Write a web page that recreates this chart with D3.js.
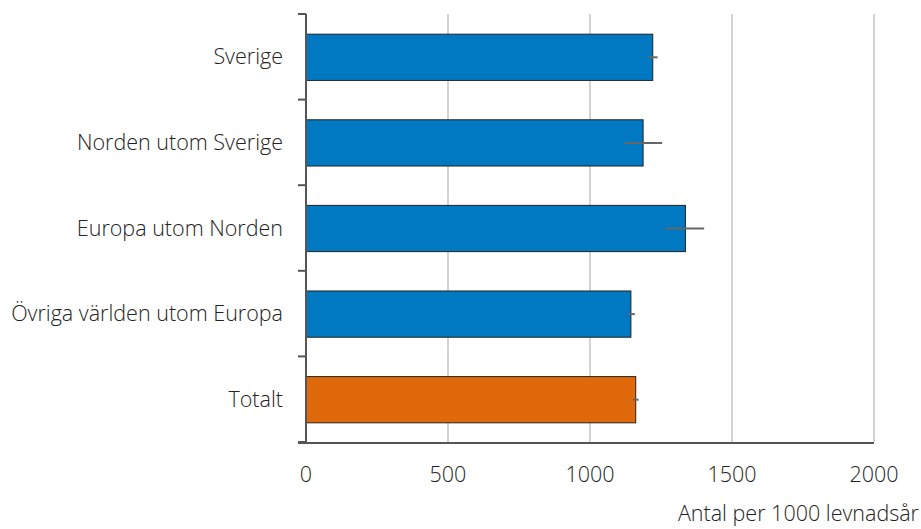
<!DOCTYPE html>
<html><head><meta charset="utf-8">
<script src="https://cdn.jsdelivr.net/npm/d3@7"></script>
<style>body{margin:0;background:#fff}svg{display:block;font-family:"Open Sans",sans-serif;font-weight:300}</style>
</head><body><svg id="c" width="921" height="529"></svg>
<script>
const categories = ["Sverige","Norden utom Sverige","Europa utom Norden","Övriga världen utom Europa","Totalt"];
const values = [1221,1187,1336,1144,1161];
const lower = [1205,1123,1267,1133,1152];
const upper = [1238,1254,1402,1158,1171];
const colors = ["#0079c2","#0079c2","#0079c2","#0079c2","#e0690b"];
const xTicks = [0,500,1000,1500,2000];
const xLabel = "Antal per 1000 levnadsår";
const FS = 21.5;

const svg = d3.select("#c");
const x = d3.scaleLinear().domain([0,2000]).range([306,874]);
const y = d3.scaleBand().domain(categories).range([14,442]).paddingInner(0.46).paddingOuter(0.23);
const band = d3.scaleBand().domain(categories).range([14,442]);

svg.append("g").selectAll("line").data(xTicks.slice(1)).join("line")
  .attr("x1",d=>x(d)).attr("x2",d=>x(d)).attr("y1",14).attr("y2",442)
  .attr("stroke","#c4c4c4").attr("stroke-width",1.5);

svg.append("g").selectAll("rect").data(categories).join("rect")
  .attr("x",x(0)).attr("y",d=>y(d)+0.5).attr("width",(d,i)=>x(values[i])-x(0)).attr("height",y.bandwidth())
  .attr("fill",(d,i)=>colors[i]).attr("stroke","#222").attr("stroke-width",1);

svg.append("g").selectAll("line").data(categories).join("line")
  .attr("x1",(d,i)=>x(lower[i])).attr("x2",(d,i)=>x(upper[i]))
  .attr("y1",d=>y(d)+y.bandwidth()/2+0.5).attr("y2",d=>y(d)+y.bandwidth()/2+0.5)
  .attr("stroke","#666").attr("stroke-width",2);

const yAxis = svg.append("g");
yAxis.append("line").attr("x1",306).attr("x2",306).attr("y1",14).attr("y2",443).attr("stroke","#555").attr("stroke-width",2);
const bounds = categories.map(c=>band(c)).concat([442]);
yAxis.selectAll("line.t").data(bounds).join("line").attr("class","t")
  .attr("x1",298).attr("x2",306).attr("y1",d=>d).attr("y2",d=>d).attr("stroke","#555").attr("stroke-width",2);
yAxis.selectAll("text").data(categories).join("text")
  .attr("x",283).attr("y",d=>band(d)+band.bandwidth()/2).attr("dy","0.35em")
  .attr("text-anchor","end").attr("font-size",FS).attr("fill","#222").text(d=>d);

const xAxis = svg.append("g");
xAxis.append("line").attr("x1",298).attr("x2",874).attr("y1",443).attr("y2",443).attr("stroke","#555").attr("stroke-width",2);
xAxis.selectAll("text").data(xTicks).join("text")
  .attr("x",d=>x(d)).attr("y",474).attr("dy","0.35em").attr("text-anchor","middle")
  .attr("font-size",FS).attr("fill","#222").text(d=>d);
svg.append("text").attr("x",919).attr("y",513).attr("dy","0.35em").attr("text-anchor","end")
  .attr("font-size",FS).attr("fill","#222").text(xLabel);
</script></body></html>
